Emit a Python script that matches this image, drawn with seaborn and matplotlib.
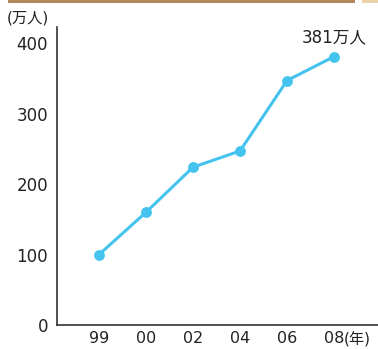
import matplotlib
matplotlib.use("Agg")
import matplotlib.pyplot as plt
import matplotlib.patches as mpatches
import seaborn as sns
import pandas as pd

years = ["99", "00", "02", "04", "06", "08"]
users = [100, 160, 224, 247, 347, 381]
yticks = [0, 100, 200, 300, 400]
last_label = "381万人"

sns.set_theme(style="white")
plt.rcParams["font.family"] = ["DejaVu Sans", "Noto Sans CJK JP"]

df = pd.DataFrame({"year": years, "users": users})
df["pos"] = range(len(years))

fig = plt.figure(figsize=(3.78, 3.49), dpi=100)
ax = fig.add_axes([57 / 378, 24 / 349, 321 / 378, 298 / 349])

line_color = "#45c3ef"
sns.lineplot(data=df, x="pos", y="users", ax=ax, color=line_color, lw=2.2,
             marker="o", markersize=7.8, markeredgewidth=0, zorder=3)

ax.set_xlim(-0.894, 5.936)
ax.set_ylim(0, 423)
ax.set_xticks(df["pos"])
ax.set_xticklabels(years)
ax.set_yticks(yticks)
ax.set_yticklabels([str(v) for v in yticks])
ax.set_xlabel("")
ax.set_ylabel("")

for side in ["top", "right"]:
    ax.spines[side].set_visible(False)
for side in ["left", "bottom"]:
    ax.spines[side].set_color("#333333")
    ax.spines[side].set_linewidth(1.2)

ax.tick_params(axis="both", direction="in", length=4, width=1.1,
               color="#333333", labelcolor="#222222", labelsize=12)
ax.tick_params(axis="y", pad=6.5)
ax.tick_params(axis="x", pad=4.5, labelsize=11.5)

# value callout above the latest point
ax.annotate(last_label, xy=(df["pos"].iloc[-1], users[-1]), xytext=(0, 10),
            textcoords="offset points", ha="center", va="baseline",
            fontsize=12, color="#222222")

# unit labels
fig.text(7 / 378, 1 - 18 / 349, "(万人)", fontsize=11, color="#222222",
         ha="left", va="center")
fig.text(344 / 378, 1 - 340 / 349, "(年)", fontsize=11, color="#222222",
         ha="left", va="center")

# decorative header band
fig.add_artist(mpatches.Rectangle((8 / 378, 1 - 3 / 349), 347 / 378, 3 / 349,
                                  transform=fig.transFigure, color="#b08a5a", lw=0))
fig.add_artist(mpatches.Rectangle((362 / 378, 1 - 3 / 349), 16 / 378, 3 / 349,
                                  transform=fig.transFigure, color="#ecd2a8", lw=0))

fig.savefig("out.png", dpi=100, facecolor="white")
